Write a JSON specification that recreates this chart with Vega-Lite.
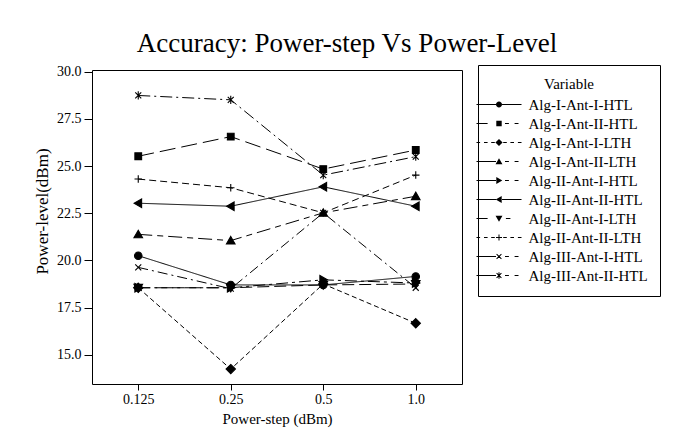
{
  "$schema": "https://vega.github.io/schema/vega-lite/v6.json",
  "width": 370,
  "height": 314,
  "autosize": "none",
  "padding": {"left": 92, "top": 70, "right": 231, "bottom": 61},
  "background": "white",
  "title": {
    "text": "Accuracy: Power-step Vs Power-Level",
    "font": "Liberation Serif",
    "fontSize": 27,
    "fontWeight": "normal",
    "color": "black",
    "anchor": "middle",
    "frame": "group",
    "dx": 70,
    "offset": -14,
    "baseline": "alphabetic"
  },
  "data": {
    "values": [
      {"series": "Alg-I-Ant-I-HTL", "step": "0.125", "value": 20.25},
      {"series": "Alg-I-Ant-I-HTL", "step": "0.25", "value": 18.7},
      {"series": "Alg-I-Ant-I-HTL", "step": "0.5", "value": 18.7},
      {"series": "Alg-I-Ant-I-HTL", "step": "1.0", "value": 19.15},
      {"series": "Alg-I-Ant-II-HTL", "step": "0.125", "value": 25.52},
      {"series": "Alg-I-Ant-II-HTL", "step": "0.25", "value": 26.56},
      {"series": "Alg-I-Ant-II-HTL", "step": "0.5", "value": 24.84},
      {"series": "Alg-I-Ant-II-HTL", "step": "1.0", "value": 25.85},
      {"series": "Alg-I-Ant-I-LTH", "step": "0.125", "value": 18.55},
      {"series": "Alg-I-Ant-I-LTH", "step": "0.25", "value": 14.24},
      {"series": "Alg-I-Ant-I-LTH", "step": "0.5", "value": 18.75},
      {"series": "Alg-I-Ant-I-LTH", "step": "1.0", "value": 16.67},
      {"series": "Alg-I-Ant-II-LTH", "step": "0.125", "value": 21.38},
      {"series": "Alg-I-Ant-II-LTH", "step": "0.25", "value": 21.05},
      {"series": "Alg-I-Ant-II-LTH", "step": "0.5", "value": 22.52},
      {"series": "Alg-I-Ant-II-LTH", "step": "1.0", "value": 23.4},
      {"series": "Alg-II-Ant-I-HTL", "step": "0.125", "value": 18.55},
      {"series": "Alg-II-Ant-I-HTL", "step": "0.25", "value": 18.55},
      {"series": "Alg-II-Ant-I-HTL", "step": "0.5", "value": 18.97},
      {"series": "Alg-II-Ant-I-HTL", "step": "1.0", "value": 18.8},
      {"series": "Alg-II-Ant-II-HTL", "step": "0.125", "value": 23.03},
      {"series": "Alg-II-Ant-II-HTL", "step": "0.25", "value": 22.87},
      {"series": "Alg-II-Ant-II-HTL", "step": "0.5", "value": 23.9},
      {"series": "Alg-II-Ant-II-HTL", "step": "1.0", "value": 22.87},
      {"series": "Alg-II-Ant-I-LTH", "step": "0.125", "value": 18.55},
      {"series": "Alg-II-Ant-I-LTH", "step": "0.25", "value": 18.55},
      {"series": "Alg-II-Ant-I-LTH", "step": "0.5", "value": 18.7},
      {"series": "Alg-II-Ant-I-LTH", "step": "1.0", "value": 18.75},
      {"series": "Alg-II-Ant-II-LTH", "step": "0.125", "value": 24.31},
      {"series": "Alg-II-Ant-II-LTH", "step": "0.25", "value": 23.85},
      {"series": "Alg-II-Ant-II-LTH", "step": "0.5", "value": 22.52},
      {"series": "Alg-II-Ant-II-LTH", "step": "1.0", "value": 24.52},
      {"series": "Alg-III-Ant-I-HTL", "step": "0.125", "value": 19.63},
      {"series": "Alg-III-Ant-I-HTL", "step": "0.25", "value": 18.5},
      {"series": "Alg-III-Ant-I-HTL", "step": "0.5", "value": 22.52},
      {"series": "Alg-III-Ant-I-HTL", "step": "1.0", "value": 18.55},
      {"series": "Alg-III-Ant-II-HTL", "step": "0.125", "value": 28.74},
      {"series": "Alg-III-Ant-II-HTL", "step": "0.25", "value": 28.51},
      {"series": "Alg-III-Ant-II-HTL", "step": "0.5", "value": 24.52},
      {"series": "Alg-III-Ant-II-HTL", "step": "1.0", "value": 25.5}
    ]
  },
  "encoding": {
    "x": {
      "field": "step",
      "type": "ordinal",
      "sort": ["0.125", "0.25", "0.5", "1.0"],
      "scale": {"type": "point", "padding": 0.5},
      "axis": {
        "title": "Power-step (dBm)",
        "labelAngle": 0,
        "tickSize": 6,
        "labelPadding": 2,
        "titlePadding": 5,
        "labelFontSize": 14,
        "titleFontSize": 15,
        "titleFontWeight": "normal",
        "domain": false,
        "grid": false,
        "tickColor": "black",
        "labelColor": "black",
        "titleColor": "black"
      }
    },
    "y": {
      "field": "value",
      "type": "quantitative",
      "scale": {"domain": [13.45, 30.09], "nice": false, "zero": false},
      "axis": {
        "title": "Power-level(dBm)",
        "values": [15, 17.5, 20, 22.5, 25, 27.5, 30],
        "format": ".1f",
        "tickSize": 8,
        "labelPadding": 3,
        "labelFontSize": 14,
        "titleFontSize": 17,
        "titleFontWeight": "normal",
        "titleAngle": -90,
        "titleX": -50,
        "titleY": 141,
        "titleAlign": "center",
        "titleBaseline": "middle",
        "domain": false,
        "grid": false,
        "tickColor": "black",
        "labelColor": "black",
        "titleColor": "black"
      }
    }
  },
  "layer": [
    {
      "mark": {"type": "line", "color": "black", "strokeWidth": 1},
      "encoding": {
        "detail": {"field": "series"},
        "strokeDash": {
          "field": "series",
          "type": "nominal",
          "scale": {
            "domain": ["Alg-I-Ant-I-HTL", "Alg-I-Ant-II-HTL", "Alg-I-Ant-I-LTH", "Alg-I-Ant-II-LTH", "Alg-II-Ant-I-HTL", "Alg-II-Ant-II-HTL", "Alg-II-Ant-I-LTH", "Alg-II-Ant-II-LTH", "Alg-III-Ant-I-HTL", "Alg-III-Ant-II-HTL"],
            "range": [[1, 0], [16, 6], [5, 3], [14, 5, 6, 5], [12, 4, 3, 4], [1, 0], [12, 5], [7, 4], [10, 4, 2, 4], [12, 4, 2, 4]]
          },
          "legend": null
        }
      }
    },
    {
      "mark": {"type": "point", "filled": true, "color": "black", "stroke": "black", "strokeWidth": 1.1, "size": 56, "opacity": 1},
      "encoding": {
        "shape": {
          "field": "series",
          "type": "nominal",
          "scale": {
            "domain": ["Alg-I-Ant-I-HTL", "Alg-I-Ant-II-HTL", "Alg-I-Ant-I-LTH", "Alg-I-Ant-II-LTH", "Alg-II-Ant-I-HTL", "Alg-II-Ant-II-HTL", "Alg-II-Ant-I-LTH", "Alg-II-Ant-II-LTH", "Alg-III-Ant-I-HTL", "Alg-III-Ant-II-HTL"],
            "range": [
              "M1,0A1,1,0,1,1,-1,0A1,1,0,1,1,1,0Z",
              "M-0.9,-0.9H0.9V0.9H-0.9Z",
              "M0,-1.25L1.25,0L0,1.25L-1.25,0Z",
              "M0,-1.1L1.15,0.9H-1.15Z",
              "M1.1,0L-0.9,-1.15V1.15Z",
              "M-1.1,0L0.9,-1.15V1.15Z",
              "M0,1.1L1.15,-0.9H-1.15Z",
              "M-1,0H1M0,-1V1",
              "M-0.8,-0.8L0.8,0.8M-0.8,0.8L0.8,-0.8",
              "M-0.8,-0.8L0.8,0.8M-0.8,0.8L0.8,-0.8M0,-1.1V1.1"
            ]
          },
          "legend": null
        }
      }
    },
    {
      "mark": {"type": "point", "filled": true, "color": "black", "opacity": 0, "size": 36},
      "encoding": {
        "shape": {
          "field": "series",
          "type": "nominal",
          "scale": {
            "domain": ["Alg-I-Ant-I-HTL", "Alg-I-Ant-II-HTL", "Alg-I-Ant-I-LTH", "Alg-I-Ant-II-LTH", "Alg-II-Ant-I-HTL", "Alg-II-Ant-II-HTL", "Alg-II-Ant-I-LTH", "Alg-II-Ant-II-LTH", "Alg-III-Ant-I-HTL", "Alg-III-Ant-II-HTL"],
            "range": [
              "M-7.5,-0.17H-1V0.17H-7.5Z M1,-0.17H7.5V0.17H1Z M1,0A1,1,0,1,1,-1,0A1,1,0,1,1,1,0Z",
              "M-7.5,-0.17H-3.8V0.17H-7.5Z M2,-0.17H3.3V0.17H2Z M5.2,-0.17H6.5V0.17H5.2Z M-0.9,-0.9H0.9V0.9H-0.9Z",
              "M-7.5,-0.17H-6.3V0.17H-7.5Z M-5,-0.17H-3.8V0.17H-5Z M-2.6,-0.17H-1.4V0.17H-2.6Z M1.4,-0.17H2.6V0.17H1.4Z M3.8,-0.17H5V0.17H3.8Z M6.3,-0.17H7.5V0.17H6.3Z M0,-1.2L1.2,0L0,1.2L-1.2,0Z",
              "M-7.5,-0.17H-1V0.17H-7.5Z M2,-0.17H3.3V0.17H2Z M5.2,-0.17H6.5V0.17H5.2Z M0,-1.1L1.15,0.9H-1.15Z",
              "M-7.5,-0.17H-1V0.17H-7.5Z M2,-0.17H3.3V0.17H2Z M5.2,-0.17H6.5V0.17H5.2Z M1.1,0L-0.9,1.15V-1.15Z",
              "M-7.5,-0.17H-1V0.17H-7.5Z M1,-0.17H7.5V0.17H1Z M-1.1,0L0.9,-1.15V1.15Z",
              "M-7.5,-0.17H-3.8V0.17H-7.5Z M2.3,-0.17H3.8V0.17H2.3Z M0,1.1L-1.15,-0.9H1.15Z",
              "M-7.5,-0.17H-6.3V0.17H-7.5Z M-5,-0.17H-3.8V0.17H-5Z M-2.6,-0.17H-1.4V0.17H-2.6Z M1.4,-0.17H2.6V0.17H1.4Z M3.8,-0.17H5V0.17H3.8Z M6.3,-0.17H7.5V0.17H6.3Z M-1,-0.17H-0.17V-1H0.17V-0.17H1V0.17H0.17V1H-0.17V0.17H-1Z",
              "M-7.5,-0.17H-1V0.17H-7.5Z M2,-0.17H3.3V0.17H2Z M5.2,-0.17H6.5V0.17H5.2Z M-0.68,-0.92L0.92,0.68L0.68,0.92L-0.92,-0.68Z M-0.92,0.68L0.68,-0.92L0.92,-0.68L-0.68,0.92Z",
              "M-7.5,-0.17H-1V0.17H-7.5Z M2,-0.17H3.3V0.17H2Z M5.2,-0.17H6.5V0.17H5.2Z M-0.68,-0.92L0.92,0.68L0.68,0.92L-0.92,-0.68Z M-0.92,0.68L0.68,-0.92L0.92,-0.68L-0.68,0.92Z M-0.17,-1.1H0.17V1.1H-0.17Z"
            ]
          },
          "legend": {
            "title": "Variable",
            "orient": "none",
            "legendX": 386,
            "legendY": -5,
            "padding": 12,
            "strokeColor": "black",
            "fillColor": "white",
            "symbolSize": 36,
            "symbolOffset": 1.5,
            "labelOffset": 22,
            "symbolStrokeWidth": 0,
            "symbolFillColor": "black",
            "symbolOpacity": 1,
            "labelFontSize": 15,
            "labelColor": "black",
            "titleFontSize": 15,
            "titleFontWeight": "normal",
            "titleColor": "black",
            "titleAnchor": "middle",
            "titlePadding": 5,
            "rowPadding": 3
          }
        }
      }
    }
  ],
  "resolve": {"scale": {"shape": "independent"}},
  "config": {
    "font": "Liberation Serif",
    "view": {"stroke": "black", "strokeWidth": 1}
  }
}
